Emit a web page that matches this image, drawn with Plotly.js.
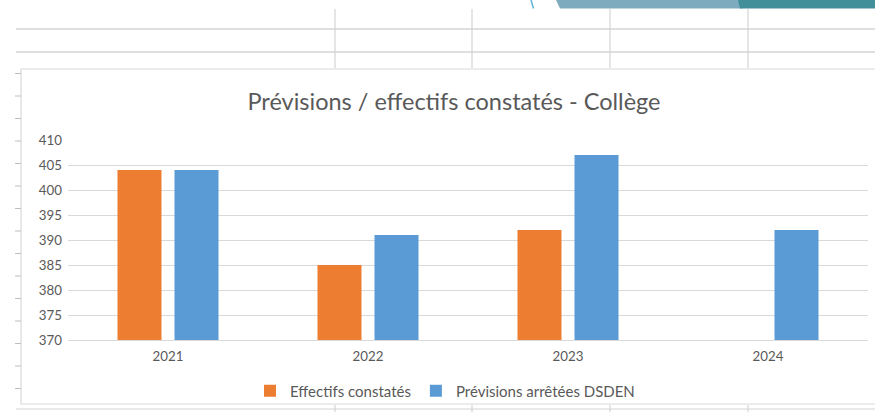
<!DOCTYPE html>
<html>
<head>
<meta charset="utf-8">
<script src="https://cdn.plot.ly/plotly-3.0.1.min.js"></script>
<style>
html,body{margin:0;padding:0;background:#fff;}
#chart{width:875px;height:412px;}
</style>
</head>
<body>
<div id="chart"></div>
<script>
// ---- Data ----
const categories = ["2021", "2022", "2023", "2024"];
const effectifsConstates = [404, 385, 392, null];
const previsionsDSDEN = [404, 391, 407, 392];
const seriesNames = ["Effectifs constatés", "Prévisions arrêtées DSDEN"];
const titleText = "Prévisions / effectifs constatés - Collège";
const yTickValues = [370, 375, 380, 385, 390, 395, 400, 405, 410];

// ---- Layout helpers (pixel -> paper) ----
const W = 875, H = 412;
const px = x => x / W;
const py = y => 1 - y / H;

const textColor = "#595959";
const gridColor = "#D9D9D9";
const sheetLine = "#D4D4D4";
const font = "Lato, 'Open Sans', sans-serif";

const shapes = [];
// chart frame (white box with light border)
shapes.push({type:"rect", xref:"paper", yref:"paper", x0:px(21), x1:px(910), y0:py(404), y1:py(69),
  line:{color:"#D9D9D9", width:1.2}, fillcolor:"#FFFFFF", layer:"below"});
// spreadsheet horizontal lines above chart
[29, 52].forEach(y => shapes.push({type:"line", xref:"paper", yref:"paper", x0:px(16), x1:px(875), y0:py(y), y1:py(y),
  line:{color:sheetLine, width:1.5}, layer:"below"}));
// spreadsheet line below chart
shapes.push({type:"line", xref:"paper", yref:"paper", x0:px(16), x1:px(875), y0:py(409), y1:py(409),
  line:{color:sheetLine, width:1.2}, layer:"below"});
// spreadsheet vertical lines above and below chart
[335, 472, 610, 748].forEach(x => {
  shapes.push({type:"line", xref:"paper", yref:"paper", x0:px(x), x1:px(x), y0:py(9), y1:py(68),
    line:{color:sheetLine, width:1.2}, layer:"below"});
  shapes.push({type:"line", xref:"paper", yref:"paper", x0:px(x), x1:px(x), y0:py(405), y1:py(412),
    line:{color:sheetLine, width:1.2}, layer:"below"});
});
// spreadsheet row stubs to the left of the chart
for (let y = 73.5; y < 400; y += 22.5) {
  shapes.push({type:"line", xref:"paper", yref:"paper", x0:px(15), x1:px(21), y0:py(y), y1:py(y),
    line:{color:"#BFBFBF", width:1}, layer:"below"});
}
// decorative banner at top right
shapes.push({type:"path", xref:"paper", yref:"paper",
  path:`M${px(556)},${py(0)} L${px(740)},${py(0)} L${px(742)},${py(8.5)} L${px(560)},${py(8.5)} Z`,
  fillcolor:"#7EABBE", line:{width:0}, layer:"below"});
shapes.push({type:"path", xref:"paper", yref:"paper",
  path:`M${px(738)},${py(0)} L${px(875)},${py(0)} L${px(875)},${py(8.5)} L${px(740)},${py(8.5)} Z`,
  fillcolor:"#418F99", line:{width:0}, layer:"below"});
shapes.push({type:"line", xref:"paper", yref:"paper", x0:px(531), x1:px(533.5), y0:py(0), y1:py(8.5),
  line:{color:"#62B2D9", width:1.5}, layer:"below"});

const traces = [
  {type:"bar", name:seriesNames[0], x:categories, y:effectifsConstates,
   marker:{color:"#ED7D31"}, hoverinfo:"x+y"},
  {type:"bar", name:seriesNames[1], x:categories, y:previsionsDSDEN,
   marker:{color:"#5B9BD5"}, hoverinfo:"x+y"}
];

const layout = {
  width:W, height:H,
  margin:{l:0, r:0, t:0, b:0},
  paper_bgcolor:"rgba(0,0,0,0)",
  plot_bgcolor:"rgba(0,0,0,0)",
  font:{family:font, color:textColor, size:13},
  title:{text:titleText, x:px(454), y:py(102), xref:"paper", yref:"paper", xanchor:"center", yanchor:"middle",
    font:{family:font, size:23.5, color:textColor}},
  barmode:"group",
  bargap:0.43,
  bargroupgap:0.228,
  xaxis:{domain:[px(68), px(868)], type:"category", showgrid:false, zeroline:false,
    showline:true, linecolor:gridColor, linewidth:1, ticks:"", ticklabelstandoff:4,
    tickfont:{family:font, size:13.3, color:textColor}},
  yaxis:{domain:[py(340), py(140)], range:[370, 410], tickvals:yTickValues, showgrid:true,
    gridcolor:gridColor, gridwidth:1, zeroline:false, showline:false, ticks:"", ticklabelstandoff:5,
    tickfont:{family:font, size:13.3, color:textColor}},
  showlegend:true,
  legend:{orientation:"h", x:px(445), y:py(391), xanchor:"center", yanchor:"middle",
    font:{family:font, size:15, color:textColor}, bgcolor:"rgba(0,0,0,0)", itemwidth:30},
  shapes:shapes
};

Plotly.newPlot("chart", traces, layout, {displayModeBar:false, staticPlot:true});
</script>
</body>
</html>
